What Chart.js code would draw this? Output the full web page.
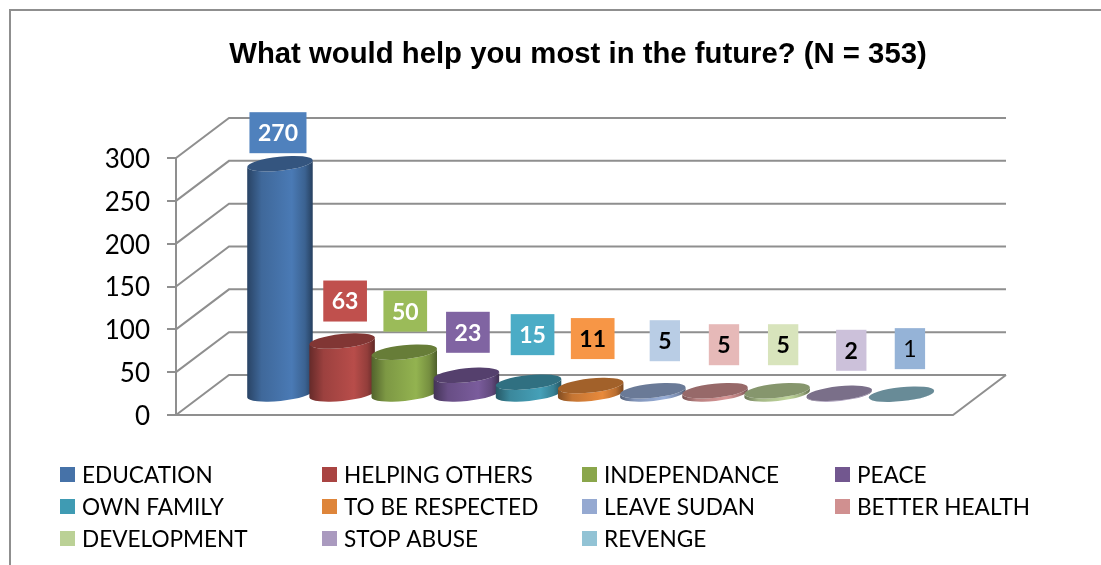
<!DOCTYPE html>
<html>
<head>
<meta charset="utf-8">
<title>What would help you most in the future?</title>
<style>
  html, body { margin: 0; padding: 0; background: #fff; }
  canvas { display: block; }
</style>
</head>
<body>
<canvas id="futureChart" width="1101" height="565"></canvas>
<script src="https://cdn.jsdelivr.net/npm/chart.js@4"></script>
<script>
const chartTitle = 'What would help you most in the future? (N = 353)';
const categories = ['EDUCATION', 'HELPING OTHERS', 'INDEPENDANCE', 'PEACE', 'OWN FAMILY', 'TO BE RESPECTED',
    'LEAVE SUDAN', 'BETTER HEALTH', 'DEVELOPMENT', 'STOP ABUSE', 'REVENGE'];
const responses = [270, 63, 50, 23, 15, 11, 5, 5, 5, 2, 1];

const barColors = ['#4A7AB5', '#B84D4A', '#93B350', '#7A5C9C', '#45A0B8', '#E88A3C',
    '#98AED8', '#D89696', '#C0D69C', '#AE9EC4', '#94C6D8'];
const swatchColors = ['#4672A8', '#A94442', '#8AA64B', '#72578F', '#3F9BB3', '#DE853A',
    '#95A9D1', '#D09090', '#BBD196', '#AA9ABF', '#92C3D5'];
const labelColors = ['#4F81BD', '#C0504D', '#9BBB59', '#8064A2', '#4BACC6', '#F79646',
    '#B9CDE5', '#E6B9B8', '#D8E4BC', '#CCC1DA', '#95B3D7'];
const labelTextColors = ['#fff', '#fff', '#fff', '#fff', '#fff', '#000', '#000', '#000', '#000', '#000', '#000'];
const labelWeights = ['bold', 'bold', 'bold', 'bold', 'bold', 'bold', 'bold', 'bold', 'bold', 'bold', 'normal'];

// hand placed data labels, relative to the top of each cylinder
const labelNudgeX = [-2, 3, 1, 1.5, 4, 2, 12, 9, 6, 12, 8.5];
const labelNudgeY = [-31, -40, -41, -43, -47.5, -47, -50, -46, -46, -43, -45.5];

// depth of the box the bars stand in
const depthX = 53;
const depthY = -40;
const gridColor = '#8F8F8F';
const tilt = -6 * Math.PI / 180;

function shade(hex, f) {
    const n = parseInt(hex.slice(1), 16);
    const r = Math.round((n >> 16) * f);
    const g = Math.round(((n >> 8) & 255) * f);
    const b = Math.round((n & 255) * f);
    return `rgb(${r},${g},${b})`;
}

function drawCylinder(ctx, el, color) {
    const rx = el.width / 2;
    const ry = 7;
    const lift = depthY / 2;
    const cx = el.x;
    const topY = el.y + lift;
    const baseY = el.base + lift;

    const grad = ctx.createLinearGradient(cx - rx, 0, cx + rx, 0);
    grad.addColorStop(0, shade(color, 0.55));
    grad.addColorStop(0.22, shade(color, 0.85));
    grad.addColorStop(0.68, shade(color, 1));
    grad.addColorStop(0.88, shade(color, 0.8));
    grad.addColorStop(1, shade(color, 0.52));

    ctx.beginPath();
    ctx.ellipse(cx, baseY, rx, ry, tilt, 0, Math.PI);
    ctx.ellipse(cx, topY, rx, ry, tilt, Math.PI, 0, true);
    ctx.closePath();
    ctx.fillStyle = grad;
    ctx.fill();

    ctx.beginPath();
    ctx.ellipse(cx, topY, rx, ry, tilt, 0, Math.PI * 2);
    ctx.fillStyle = shade(color, 0.7);
    ctx.fill();
}

const boxPlugin = {
    id: 'box3d',
    beforeDatasetsDraw(chart) {
        const { ctx, chartArea: area, scales: { y } } = chart;
        ctx.save();
        ctx.strokeStyle = gridColor;
        ctx.lineWidth = 2;

        // outer frame, open on the right and at the bottom
        ctx.beginPath();
        ctx.moveTo(10, 565);
        ctx.lineTo(10, 10);
        ctx.lineTo(1101, 10);
        ctx.stroke();

        // side wall and back wall lines for every tick
        y.ticks.forEach(t => {
            const py = y.getPixelForValue(t.value);
            ctx.beginPath();
            ctx.moveTo(area.left, py);
            ctx.lineTo(area.left + depthX, py + depthY);
            ctx.lineTo(area.right + depthX, py + depthY);
            ctx.stroke();
        });

        // front and right edge of the floor
        const y0 = y.getPixelForValue(0);
        ctx.beginPath();
        ctx.moveTo(area.left, y0);
        ctx.lineTo(area.right, y0);
        ctx.lineTo(area.right + depthX, y0 + depthY);
        ctx.stroke();
        ctx.restore();
    },
    // the flat bars are replaced by cylinders below
    beforeDatasetDraw() {
        return false;
    },
    afterDatasetsDraw(chart) {
        const { ctx } = chart;
        const bars = chart.getDatasetMeta(0).data;
        ctx.save();
        bars.forEach((el, i) => drawCylinder(ctx, el, barColors[i]));

        // data labels
        ctx.textAlign = 'center';
        ctx.textBaseline = 'middle';
        bars.forEach((el, i) => {
            const text = String(responses[i]);
            const cx = el.x + labelNudgeX[i];
            const cy = el.y + depthY / 2 + labelNudgeY[i];
            ctx.font = labelWeights[i] + ' 23px Lato';
            const w = ctx.measureText(text).width + 17;
            ctx.fillStyle = labelColors[i];
            ctx.fillRect(cx - w / 2, cy - 20.5, w, 41);
            ctx.fillStyle = labelTextColors[i];
            ctx.fillText(text, cx, cy + 1);
        });
        ctx.restore();
    },
    afterDraw(chart) {
        const { ctx } = chart;
        ctx.save();
        ctx.fillStyle = '#000';
        ctx.textBaseline = 'alphabetic';

        ctx.font = 'bold 29.3px "Liberation Sans"';
        ctx.textAlign = 'center';
        ctx.fillText(chartTitle, 578, 63);

        // legend, four columns across
        const colX = [60, 322, 582, 835];
        ctx.textAlign = 'left';
        ctx.font = '22.6px Lato';
        categories.forEach((name, i) => {
            const x = colX[i % 4];
            const rowY = 474.5 + Math.floor(i / 4) * 32;
            ctx.fillStyle = swatchColors[i];
            ctx.fillRect(x, rowY - 7.5, 15, 15);
            ctx.fillStyle = '#000';
            ctx.fillText(name, x + 22, rowY + 8);
        });
        ctx.restore();
    }
};

const ctx = document.getElementById('futureChart').getContext('2d');
const futureChart = new Chart(ctx, {
    type: 'bar',
    data: {
        labels: categories,
        datasets: [{
            label: 'Responses',
            data: responses.map((v, i) => ({ x: i, y: v })),
            backgroundColor: barColors,
            barPercentage: 1.06,
            categoryPercentage: 1,
        }]
    },
    options: {
        responsive: false,
        animation: false,
        layout: {
            padding: { top: 158, bottom: 150, left: 76, right: 148 }
        },
        scales: {
            x: {
                type: 'linear',
                display: false,
                offset: false,
                min: -1.673,
                max: 10.83,
            },
            y: {
                min: 0,
                max: 300,
                afterFit(scale) {
                    scale.width = 100;
                },
                ticks: {
                    stepSize: 50,
                    color: '#000',
                    padding: 17,
                    labelOffset: 1.5,
                    font: { family: 'Lato', size: 26 },
                },
                grid: {
                    drawOnChartArea: false,
                    color: gridColor,
                    lineWidth: 2,
                    tickLength: 9,
                },
                border: { color: gridColor, width: 2 },
            }
        },
        plugins: {
            legend: { display: false },
            title: { display: false },
            tooltip: { enabled: false },
        }
    },
    plugins: [boxPlugin]
});
</script>
</body>
</html>
